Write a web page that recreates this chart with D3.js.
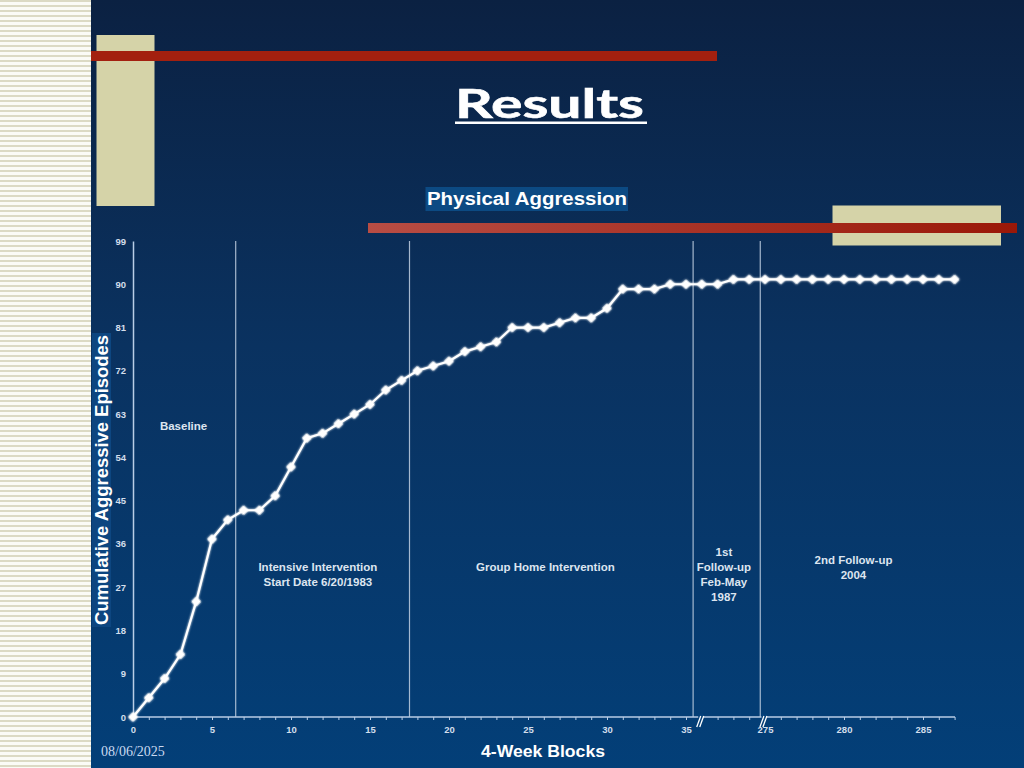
<!DOCTYPE html>
<html>
<head>
<meta charset="utf-8">
<script src="https://cdn.jsdelivr.net/npm/d3@7"></script>
<style>
  html, body { margin: 0; padding: 0; background: #0b2244; }
  svg { display: block; }
</style>
</head>
<body>
<svg id="chart" width="1024" height="768"></svg>
<script>
// ---------- DATA ----------
const blocks = ["0","1","2","3","4","5","6","7","8","9","10","11","12","13","14","15","16","17",
  "18","19","20","21","22","23","24","25","26","27","28","29","30","31","32","33","34","35",
  "36","37","38","39",
  "275","276","277","278","279","280","281","282","283","284","285","286","287"];
const episodes = [0,4,8,13,24,37,41,43,43,46,52,58,59,61,63,65,68,70,72,73,74,76,77,78,81,81,81,
  82,83,83,85,89,89,89,90,90,90,90,91,91,91,91,91,91,91,91,91,91,91,91,91,91,91];
const xTickLabels = ["0","5","10","15","20","25","30","35","275","280","285"];
const yTicks = [0,9,18,27,36,45,54,63,72,81,90,99];
// phase boundaries, in block-index units
const phaseBounds = [6.5, 17.5, 35.45, 39.7];
const axisBreaks = [35.9, 39.9];
const phaseLabels = [
  { at: 3.2,  y: 426, lines: ["Baseline"] },
  { at: 11.7, y: 567, lines: ["Intensive Intervention", "Start Date 6/20/1983"] },
  { at: 26.1, y: 567, lines: ["Group Home Intervention"] },
  { at: 37.4, y: 552, lines: ["1st", "Follow-up", "Feb-May", "1987"] },
  { at: 45.6, y: 560, lines: ["2nd Follow-up", "2004"] }
];
const titleText = "Results";
const subtitleText = "Physical Aggression";
const yTitle = "Cumulative Aggressive Episodes";
const xTitle = "4-Week Blocks";
const dateText = "08/06/2025";

// ---------- SETUP ----------
const svg = d3.select("#chart");
const defs = svg.append("defs");

const bg = defs.append("linearGradient").attr("id", "bg").attr("x1", 0).attr("y1", 0).attr("x2", 0).attr("y2", 1);
bg.append("stop").attr("offset", "0%").attr("stop-color", "#0b2142");
bg.append("stop").attr("offset", "45%").attr("stop-color", "#0a3260");
bg.append("stop").attr("offset", "100%").attr("stop-color", "#033f78");

const redG = defs.append("linearGradient").attr("id", "redG").attr("x1", 0).attr("y1", 0).attr("x2", 1).attr("y2", 0);
redG.append("stop").attr("offset", "0%").attr("stop-color", "#b84d44");
redG.append("stop").attr("offset", "100%").attr("stop-color", "#9a1808");

const stripes = defs.append("pattern").attr("id", "stripes").attr("patternUnits", "userSpaceOnUse")
  .attr("width", 8).attr("height", 5);
stripes.append("rect").attr("width", 8).attr("height", 5).attr("fill", "#fbfbf6");
stripes.append("rect").attr("y", 0).attr("width", 8).attr("height", 2).attr("fill", "#dcdac4");

const glow = defs.append("filter").attr("id", "glow").attr("x", "-50%").attr("y", "-50%").attr("width", "200%").attr("height", "200%");
glow.append("feGaussianBlur").attr("stdDeviation", 1.1).attr("result", "b");
const fm = glow.append("feMerge");
fm.append("feMergeNode").attr("in", "b");
fm.append("feMergeNode").attr("in", "SourceGraphic");

// background
svg.append("rect").attr("width", 1024).attr("height", 768).attr("fill", "url(#bg)");
svg.append("rect").attr("x", 0).attr("y", 0).attr("width", 91).attr("height", 768).attr("fill", "url(#stripes)");

// decorative blocks
svg.append("rect").attr("x", 96.5).attr("y", 35).attr("width", 58).attr("height", 171).attr("fill", "#d5d3a8");
svg.append("rect").attr("x", 832.5).attr("y", 205.5).attr("width", 168.5).attr("height", 40).attr("fill", "#d5d3a8");
svg.append("rect").attr("x", 91).attr("y", 51).attr("width", 626).attr("height", 10).attr("fill", "#a3200f");
svg.append("rect").attr("x", 368).attr("y", 223).attr("width", 649).attr("height", 10).attr("fill", "url(#redG)");

// title
svg.append("text").attr("x", 455).attr("y", 118)
  .attr("font-family", "Lato, 'Open Sans', sans-serif").attr("font-weight", 700).attr("font-size", 41)
  .attr("fill", "#ffffff").attr("stroke", "#ffffff").attr("stroke-width", 0.6)
  .attr("textLength", 189).attr("lengthAdjust", "spacingAndGlyphs")
  .text(titleText);
svg.append("rect").attr("x", 455).attr("y", 121.5).attr("width", 192).attr("height", 2.5).attr("fill", "#ffffff");

// subtitle with highlight
svg.append("rect").attr("x", 425.5).attr("y", 187).attr("width", 202.5).attr("height", 24).attr("fill", "#0c4a83");
svg.append("text").attr("x", 427).attr("y", 199).attr("dominant-baseline", "central")
  .attr("font-family", "'Liberation Sans', Arial, sans-serif").attr("font-weight", 700).attr("font-size", 18)
  .attr("fill", "#ffffff").attr("textLength", 200).attr("lengthAdjust", "spacingAndGlyphs")
  .text(subtitleText);

// ---------- SCALES ----------
const x = d3.scalePoint().domain(blocks).range([133, 954.6]);
const xi = d3.scaleLinear().domain([0, blocks.length - 1]).range([133, 954.6]);
const y = d3.scaleLinear().domain([0, 99]).range([717, 241]);

const font = "'Liberation Sans', Arial, sans-serif";
const axisColor = "#b9cde6";
const labelColor = "#d3deec";

// phase lines
svg.append("g").selectAll("line").data(phaseBounds).join("line")
  .attr("x1", d => xi(d)).attr("x2", d => xi(d))
  .attr("y1", y(99)).attr("y2", y(0))
  .attr("stroke", "#c2d0e2").attr("stroke-width", 1.2).attr("stroke-opacity", 0.85);

// x axis
const xAxis = d3.axisBottom(x).tickSize(3).tickPadding(6)
  .tickFormat(d => xTickLabels.includes(d) ? d : "");
const gx = svg.append("g").attr("transform", `translate(0,${y(0)})`).call(xAxis);
gx.select(".domain").attr("stroke", axisColor).attr("stroke-width", 1.5).attr("d", `M133,0H955`);
gx.selectAll(".tick line").attr("stroke", axisColor).attr("stroke-width", 1);
gx.selectAll(".tick text").attr("fill", labelColor).attr("font-family", font)
  .attr("font-weight", 700).attr("font-size", 9.5);

// y axis
const yAxis = d3.axisLeft(y).tickValues(yTicks).tickSize(0).tickPadding(7);
const gy = svg.append("g").attr("transform", `translate(133,0)`).call(yAxis);
gy.select(".domain").attr("stroke", axisColor).attr("stroke-width", 1.5);
gy.selectAll(".tick text").attr("fill", labelColor).attr("font-family", font)
  .attr("font-weight", 700).attr("font-size", 9.5);

// axis breaks
const brk = svg.append("g");
axisBreaks.forEach(b => {
  const bx = xi(b);
  brk.append("rect").attr("x", bx - 2).attr("y", 714).attr("width", 5).attr("height", 6).attr("fill", "#04407a");
  [-1.5, 1.5].forEach(o => {
    brk.append("line").attr("x1", bx + o - 2).attr("y1", 727).attr("x2", bx + o + 2).attr("y2", 716)
      .attr("stroke", "#ffffff").attr("stroke-width", 1.3);
  });
});

// phase labels
const pl = svg.append("g").attr("font-family", font).attr("font-weight", 700).attr("font-size", 11.5)
  .attr("fill", "#dde5f0").attr("text-anchor", "middle");
phaseLabels.forEach(p => {
  p.lines.forEach((ln, k) => {
    pl.append("text").attr("x", xi(p.at)).attr("y", p.y + k * 15).attr("dominant-baseline", "central").text(ln);
  });
});

// data line
const line = d3.line().x((d, i) => x(blocks[i])).y(d => y(d));
svg.append("path").datum(episodes).attr("d", line)
  .attr("fill", "none").attr("stroke", "#ffffff").attr("stroke-width", 2.2).attr("filter", "url(#glow)");
svg.append("g").selectAll("path").data(episodes).join("path")
  .attr("transform", (d, i) => `translate(${x(blocks[i])},${y(d)}) rotate(45)`)
  .attr("d", d3.symbol().type(d3.symbolSquare).size(38))
  .attr("fill", "#ffffff").attr("stroke", "#ffffff").attr("stroke-width", 0.8)
  .attr("stroke-linejoin", "round").attr("filter", "url(#glow)");

// axis titles
svg.append("rect").attr("x", 92).attr("y", 333).attr("width", 19).attr("height", 294).attr("fill", "#0d4680");
svg.append("text").attr("transform", "translate(102,480) rotate(-90)")
  .attr("text-anchor", "middle").attr("dominant-baseline", "central")
  .attr("font-family", font).attr("font-weight", 700).attr("font-size", 18).attr("fill", "#ffffff")
  .attr("textLength", 290).attr("lengthAdjust", "spacingAndGlyphs")
  .text(yTitle);
svg.append("text").attr("x", 543).attr("y", 751).attr("text-anchor", "middle").attr("dominant-baseline", "central")
  .attr("font-family", font).attr("font-weight", 700).attr("font-size", 16).attr("fill", "#ffffff")
  .attr("textLength", 124).attr("lengthAdjust", "spacingAndGlyphs")
  .text(xTitle);

// date
svg.append("text").attr("x", 101).attr("y", 751).attr("dominant-baseline", "central")
  .attr("font-family", "'Liberation Serif', 'Times New Roman', serif").attr("font-size", 14)
  .attr("fill", "#c9d9f0").text(dateText);
</script>
</body>
</html>
